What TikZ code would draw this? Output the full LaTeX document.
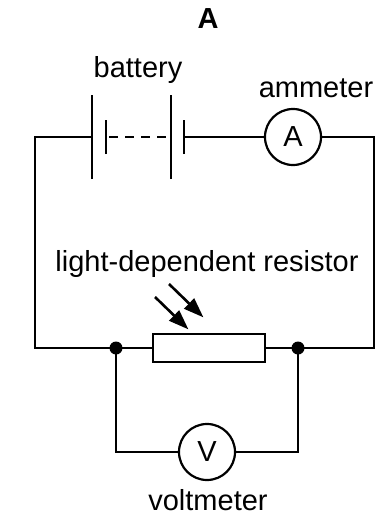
\documentclass[tikz,border=0pt]{standalone}
\usepackage{fontspec}
\setmainfont{Liberation Sans}
\usetikzlibrary{arrows.meta}

\tikzset{
  lbl/.style={font=\fontsize{29}{31}\selectfont},
  meter/.style={circle, draw, line width=2.2pt, minimum size=56pt, inner sep=0pt, font=\fontsize{29}{31}\selectfont},
  dot/.style={circle, fill, inner sep=0pt, minimum size=13pt},
  light/.style={-{Triangle[length=20pt,width=14pt]}, line width=2.6pt, shorten >=-2pt}
}

\begin{document}
\begin{tikzpicture}[x=1pt, y=-1pt, line width=2.9pt]
\useasboundingbox (0,0) rectangle (381,525);
% labels
\node[lbl, font=\fontsize{29}{31}\selectfont\bfseries] (title) at (208,19) {A};
\node[lbl] (batlbl) at (138,70) {battery};
\node[lbl] (amlbl) at (316,88) {ammeter};
\node[lbl] (ldrlbl) at (207,264) {light-dependent resistor};
\node[lbl] (vmlbl) at (208,500) {voltmeter};
% parts
\node[meter] (am) at (293,137) {A};
\node[meter] (vm) at (207,452) {V};
\node[rectangle, draw, minimum width=112pt, minimum height=28pt, inner sep=0pt] (ldr) at (209,348) {};
% corners and junctions
\coordinate (tl) at (35,137);
\coordinate (tr) at (374,137);
\coordinate (bl) at (35,348);
\coordinate (br) at (374,348);
\coordinate (jl) at (116,348);
\coordinate (jr) at (298,348);
\coordinate (vl) at (116,452);
\coordinate (vr) at (298,452);
% battery plates
\coordinate (p1) at (92,137);
\coordinate (p2) at (106,137);
\coordinate (p3) at (171,137);
\coordinate (p4) at (184,137);
\draw ([yshift=-42pt]p1) -- ([yshift=42pt]p1);
\draw ([yshift=-17pt]p2) -- ([yshift=17pt]p2);
\draw ([yshift=-42pt]p3) -- ([yshift=42pt]p3);
\draw ([yshift=-17pt]p4) -- ([yshift=17pt]p4);
\draw[dash pattern=on 9pt off 7pt, dash phase=-3pt] (p2) -- (p3);
% wires
\draw (p1) -- (tl) -- (bl) -- (jl) -- (ldr.west);
\draw (ldr.east) -- (jr) -- (br) -- (tr) -- (am.east);
\draw (am.west) -- (p4);
\draw (jl) -- (vl) -- (vm.west);
\draw (vm.east) -- (vr) -- (jr);
\node[dot] (dl) at (jl) {};
\node[dot] (dr) at (jr) {};
% light arrows
\coordinate (la1) at (155,297);
\coordinate (lb1) at (187,328);
\coordinate (la2) at (169,284);
\coordinate (lb2) at (202,316);
\draw[light] (la1) -- (lb1);
\draw[light] (la2) -- (lb2);
\end{tikzpicture}
\end{document}
